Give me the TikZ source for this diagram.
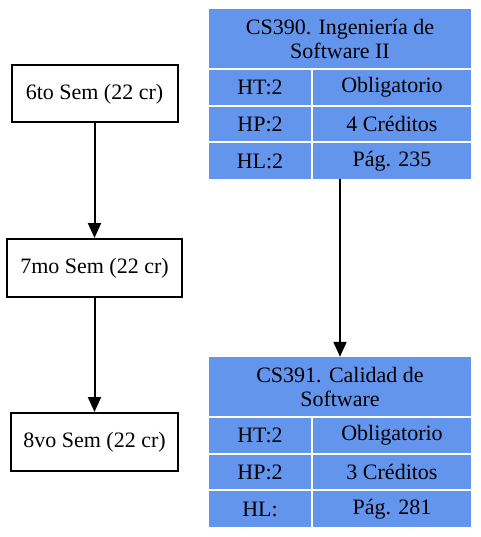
\documentclass[tikz,border=0pt]{standalone}
\usepackage{fontspec}
\setmainfont{Liberation Serif}
\usetikzlibrary{arrows.meta}
\definecolor{cellblue}{HTML}{6495ED}
\tikzset{
  sembox/.style={draw=black, line width=2pt, fill=white, minimum width=166pt, minimum height=57pt, inner sep=0pt, font=\fontsize{22}{24}\selectfont},
  cell/.style={fill=cellblue, draw=none, inner sep=0pt, font=\fontsize{22}{24}\selectfont, align=center},
  frame/.style={inner sep=0pt, draw=none},
  conn/.style={line width=2pt, -{Triangle[length=15pt,width=13pt]}}
}
\begin{document}
\begin{tikzpicture}[x=1pt,y=-1pt]
\useasboundingbox (0,0) rectangle (480,537);
% semester column
\node[sembox] (s6) at (94.5,94) {6to Sem (22 cr)};
\node[sembox, minimum width=175pt, minimum height=58pt] (s7) at (94.5,268) {7mo Sem (22 cr)};
\node[sembox, minimum width=167pt, minimum height=58pt] (s8) at (94.5,442) {8vo Sem (22 cr)};
\draw[conn] (s6) -- (s7);
\draw[conn] (s7) -- (s8);
% CS390 table
\node[frame, minimum width=262pt, minimum height=170pt] (t1) at (340,94) {};
\node[cell, minimum width=262pt, minimum height=59pt] (t1h) at (340,38.5) {CS390. Ingeniería de\\Software II};
\node[cell, minimum width=102pt, minimum height=35pt] (t1a) at (260,87.5) {HT:2};
\node[cell, minimum width=158pt, minimum height=35pt] (t1b) at (392,87.5) {Obligatorio};
\node[cell, minimum width=102pt, minimum height=34pt] (t1c) at (260,124) {HP:2};
\node[cell, minimum width=158pt, minimum height=34pt] (t1d) at (392,124) {4 Créditos};
\node[cell, minimum width=102pt, minimum height=36pt] (t1e) at (260,161) {HL:2};
\node[cell, minimum width=158pt, minimum height=36pt] (t1f) at (392,161) {Pág. 235};
% CS391 table
\node[frame, minimum width=262pt, minimum height=170pt] (t2) at (340,442) {};
\node[cell, minimum width=262pt, minimum height=59pt] (t2h) at (340,386.5) {CS391. Calidad de\\Software};
\node[cell, minimum width=102pt, minimum height=35pt] (t2a) at (260,435.5) {HT:2};
\node[cell, minimum width=158pt, minimum height=35pt] (t2b) at (392,435.5) {Obligatorio};
\node[cell, minimum width=102pt, minimum height=34pt] (t2c) at (260,472) {HP:2};
\node[cell, minimum width=158pt, minimum height=34pt] (t2d) at (392,472) {3 Créditos};
\node[cell, minimum width=102pt, minimum height=36pt] (t2e) at (260,509) {HL:};
\node[cell, minimum width=158pt, minimum height=36pt] (t2f) at (392,509) {Pág. 281};
\draw[conn] (t1.south) -- (t2.north);
\end{tikzpicture}
\end{document}
